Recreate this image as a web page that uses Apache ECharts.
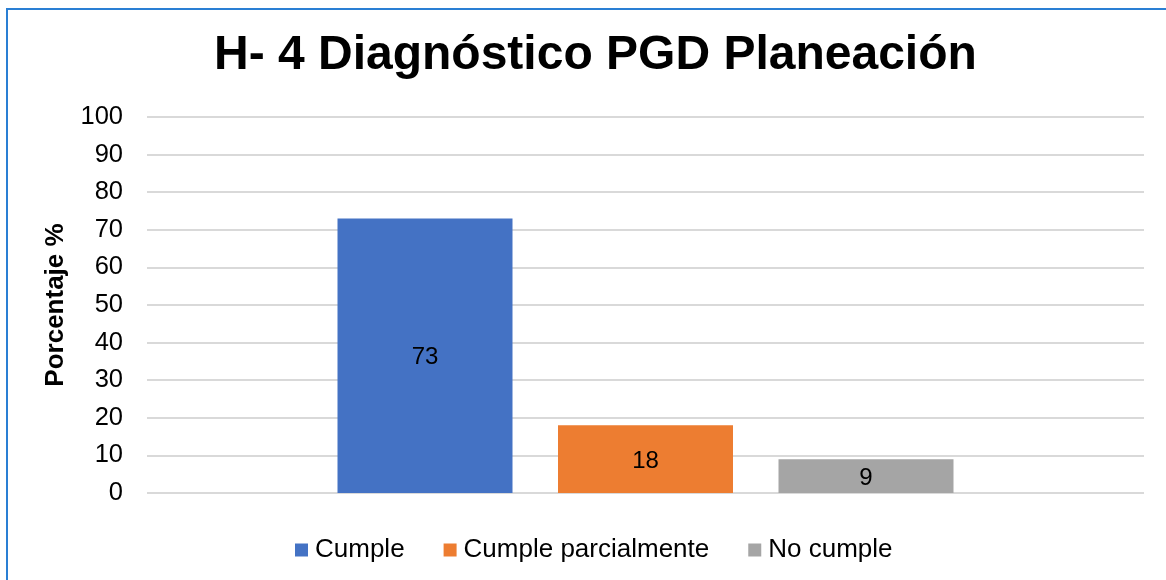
<!DOCTYPE html>
<html>
<head>
<meta charset="utf-8">
<script src="https://cdn.jsdelivr.net/npm/echarts@6/dist/echarts.min.js"></script>
<style>
  html, body { margin: 0; padding: 0; background: #fff; }
  #frame { position: absolute; left: 6px; top: 8px; width: 1300px; height: 700px; border-top: 2px solid #2a7fd4; border-left: 2px solid #2a7fd4; box-sizing: border-box; }
  #chart { position: absolute; left: 0; top: 0; width: 1166px; height: 580px; }
</style>
</head>
<body>
<div id="frame"></div>
<div id="chart"></div>
<script>
const titleText = 'H- 4 Diagnóstico PGD Planeación';
const yAxisName = 'Porcentaje %';
const categories = [''];
const seriesNames = ['Cumple', 'Cumple parcialmente', 'No cumple'];
const seriesValues = [[73], [18], [9]];
const seriesColors = ['#4472C4', '#ED7D31', '#A5A5A5'];
const yMin = 0, yMax = 100, yStep = 10;

const font = 'Liberation Sans, Arial, sans-serif';
const chart = echarts.init(document.getElementById('chart'), null, { renderer: 'canvas' });

chart.setOption({
  backgroundColor: 'transparent',
  animation: false,
  title: {
    text: titleText,
    left: 209,
    top: 27,
    textStyle: { fontFamily: font, fontSize: 48, fontWeight: 'bold', color: '#000' }
  },
  legend: {
    data: seriesNames,
    left: 290,
    top: 532,
    itemWidth: 13,
    itemHeight: 13,
    itemGap: 39,
    icon: 'rect',
    textStyle: { fontFamily: font, fontSize: 26, color: '#000', padding: [0, 0, 0, 2] }
  },
  grid: { left: 147, right: 22, top: 117, bottom: 87, containLabel: false },
  xAxis: {
    type: 'category',
    data: categories,
    axisLine: { show: false },
    axisTick: { show: false },
    axisLabel: { show: false },
    splitLine: { show: false }
  },
  yAxis: {
    type: 'value',
    min: yMin,
    max: yMax,
    interval: yStep,
    name: yAxisName,
    nameLocation: 'middle',
    nameGap: 78,
    nameRotate: 90,
    nameTextStyle: { fontFamily: font, fontSize: 26, fontWeight: 'bold', color: '#000' },
    axisLine: { show: false },
    axisTick: { show: false },
    axisLabel: { fontFamily: font, fontSize: 25.5, color: '#000', margin: 24 },
    splitLine: { lineStyle: { color: '#d9d9d9', width: 2 } }
  },
  series: seriesNames.map((name, i) => ({
    name: name,
    type: 'bar',
    data: seriesValues[i],
    barWidth: 175,
    barGap: '26%',
    itemStyle: { color: seriesColors[i] },
    label: {
      show: true,
      position: 'inside',
      offset: [0, 2],
      fontFamily: font,
      fontSize: 24,
      color: '#000'
    }
  }))
});
</script>
</body>
</html>
